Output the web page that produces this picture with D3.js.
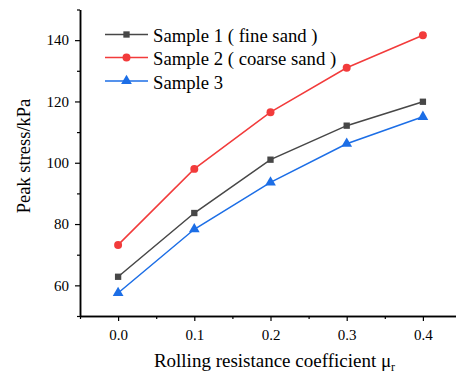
<!DOCTYPE html>
<html>
<head>
<meta charset="utf-8">
<script src="https://cdn.jsdelivr.net/npm/d3@7"></script>
<style>
  html, body { margin: 0; padding: 0; background: #fff; }
  svg { display: block; }
  svg text { font-family: "Liberation Serif", "Times New Roman", serif; fill: #000; }
</style>
</head>
<body>
<svg id="chart" width="456" height="377"></svg>
<script>
// Rolling resistance coefficient values on the x axis
const coefficients = [0.0, 0.1, 0.2, 0.3, 0.4];

// Peak stress (kPa) for each sample
const sample1 = [62.8, 83.6, 101.0, 112.1, 119.9];
const sample2 = [73.2, 98.0, 116.5, 131.0, 141.6];
const sample3 = [57.5, 78.3, 93.6, 106.2, 115.0];

const seriesNames = ["Sample 1 ( fine sand )", "Sample 2 ( coarse sand )", "Sample 3"];
const seriesColors = ["#474747", "#f23b3b", "#1c6ee6"];
const seriesShapes = [d3.symbolSquare, d3.symbolCircle, d3.symbolTriangle];

const xTicks = [0.0, 0.1, 0.2, 0.3, 0.4];
const xMinorTicks = [-0.05, 0.05, 0.15, 0.25, 0.35];
const yTicks = [60, 80, 100, 120, 140];
const yMinorTicks = [50, 70, 90, 110, 130, 150];

const svg = d3.select("#chart");

const x = d3.scaleLinear().domain([-0.05, 0.45]).range([80, 461]);
const y = d3.scaleLinear().domain([50, 150]).range([316, 9.5]);

// Axes with major and minor ticks
const xAxis = d3.axisBottom(x).tickValues(xTicks).tickFormat(d3.format(".1f"))
  .tickSize(5).tickPadding(8).tickSizeOuter(0);
const xMinor = d3.axisBottom(x).tickValues(xMinorTicks).tickFormat("").tickSize(3).tickSizeOuter(0);
const yAxis = d3.axisLeft(y).tickValues(yTicks).tickFormat(d3.format("d"))
  .tickSize(5).tickPadding(6).tickSizeOuter(0);
const yMinor = d3.axisLeft(y).tickValues(yMinorTicks).tickFormat("").tickSize(3).tickSizeOuter(0);

function styleAxis(g) {
  g.attr("font-family", null).attr("font-size", null);
  g.selectAll(".domain").attr("stroke", "#000").attr("stroke-width", 1.5);
  g.selectAll(".tick line").attr("stroke", "#000").attr("stroke-width", 1.2);
  g.selectAll(".tick text").attr("font-size", 15).attr("fill", "#000");
}

svg.append("g").attr("transform", "translate(0,316)").call(xMinor).call(styleAxis);
svg.append("g").attr("transform", "translate(0,316)").call(xAxis).call(styleAxis);
svg.append("g").attr("transform", "translate(80,0)").call(yMinor).call(styleAxis);
svg.append("g").attr("transform", "translate(80,0)").call(yAxis).call(styleAxis);

// Axis titles
svg.append("text")
  .attr("transform", "translate(30,156) rotate(-90)")
  .attr("text-anchor", "middle")
  .attr("font-size", 18.5)
  .text("Peak stress/kPa");

const xTitle = svg.append("text")
  .attr("x", 274.5).attr("y", 367)
  .attr("text-anchor", "middle")
  .attr("font-size", 19);
xTitle.append("tspan").text("Rolling resistance coefficient μ");
xTitle.append("tspan").attr("font-size", 12).attr("dy", 4).text("r");

// Series lines and markers
const allSeries = [sample1, sample2, sample3];
const line = d3.line().x((d, i) => x(coefficients[i])).y(d => y(d));
const markerSizes = [40, 50, 50];

allSeries.forEach((vals, s) => {
  svg.append("path")
    .datum(vals)
    .attr("fill", "none")
    .attr("stroke", seriesColors[s])
    .attr("stroke-width", 1.5)
    .attr("d", line);
  svg.selectAll(null)
    .data(vals)
    .enter().append("path")
    .attr("transform", (d, i) => `translate(${x(coefficients[i])},${y(d)})`)
    .attr("d", d3.symbol().type(seriesShapes[s]).size(markerSizes[s]))
    .attr("fill", seriesColors[s]);
});

// Legend
const legendRows = [34.5, 57.5, 81];
seriesNames.forEach((name, s) => {
  const g = svg.append("g").attr("transform", `translate(0,${legendRows[s]})`);
  g.append("line").attr("x1", 105).attr("x2", 148).attr("y1", 0).attr("y2", 0)
    .attr("stroke", seriesColors[s]).attr("stroke-width", 1.5);
  g.append("path").attr("transform", "translate(126.5,0)")
    .attr("d", d3.symbol().type(seriesShapes[s]).size(markerSizes[s]))
    .attr("fill", seriesColors[s]);
  g.append("text").attr("x", 153).attr("y", 7.5).attr("font-size", 18.7).text(name);
});
</script>
</body>
</html>
